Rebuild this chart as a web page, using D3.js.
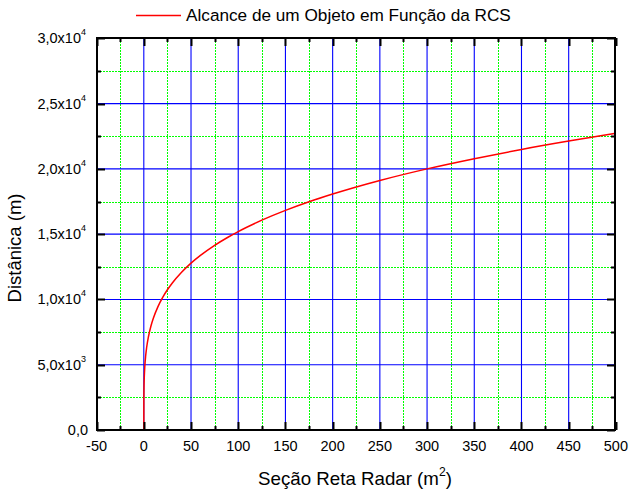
<!DOCTYPE html>
<html><head><meta charset="utf-8">
<script src="https://cdn.jsdelivr.net/npm/d3@7"></script>
<style>body{margin:0;background:#fff}svg{display:block}text{font-family:Arial,"Liberation Sans",sans-serif;fill:#000}</style>
</head><body>
<svg id="c" width="629" height="491"></svg>
<script>
const rcs = [0, 0.05, 0.2, 0.5, 1, 2, 3, 5, 7.5, 10, 15, 20, 25, 30, 40, 50, 60, 75, 90, 100, 125, 150, 175, 200, 250, 300, 350, 400, 450, 500];
const distance = [0, 2270, 3210, 4040, 4800, 5710, 6320, 7180, 7950, 8540, 9450, 10160, 10740, 11240, 12080, 12780, 13370, 14140, 14800, 15200, 16070, 16820, 17480, 18070, 19110, 20000, 20780, 21490, 22130, 22720];
const xTicks = [-50, 0, 50, 100, 150, 200, 250, 300, 350, 400, 450, 500];
const xMinor = [-25, 25, 75, 125, 175, 225, 275, 325, 375, 425, 475];
const yTicks = [0, 5000, 10000, 15000, 20000, 25000, 30000];
const yTickMant = ["0,0", "5,0x10", "1,0x10", "1,5x10", "2,0x10", "2,5x10", "3,0x10"];
const yTickExp = ["", "3", "4", "4", "4", "4", "4"];
const yMinor = [2500, 7500, 12500, 17500, 22500, 27500];
const seriesName = "Alcance de um Objeto em Função da RCS";
const xTitle = "Seção Reta Radar (m";
const yTitle = "Distânica (m)";

const L = 96.6, R = 615.9, T = 38.3, B = 430;
const x = d3.scaleLinear().domain([-50, 500]).range([L, R]);
const y = d3.scaleLinear().domain([0, 30000]).range([B, T]);
const px = v => Math.round(v) + 0.5;
const FL = 97, FR = 615, FT = 38, FB = 430;
const svg = d3.select("#c");

// fit a text element's font size so its rendered width equals target
function fitWidth(sel, target, base) {
  const w = sel.node().getBBox().width;
  const fs = base * target / w;
  sel.style("font-size", fs + "px");
  return fs;
}

// minor grid (dotted green)
const g = svg.append("g");
g.selectAll("line.vm").data(xMinor).join("line").attr("class", "vm")
  .attr("x1", d => px(x(d))).attr("x2", d => px(x(d))).attr("y1", FT).attr("y2", FB)
  .attr("stroke", "#00ff00").attr("stroke-width", 1).attr("stroke-dasharray", "2,1");
g.selectAll("line.hm").data(yMinor).join("line").attr("class", "hm")
  .attr("y1", d => px(y(d))).attr("y2", d => px(y(d))).attr("x1", FL).attr("x2", FR)
  .attr("stroke", "#00ff00").attr("stroke-width", 1).attr("stroke-dasharray", "2,1");
// major grid (solid blue)
g.selectAll("line.vM").data(xTicks.filter(d => d > -50 && d < 500)).join("line").attr("class", "vM")
  .attr("x1", d => x(d)).attr("x2", d => x(d)).attr("y1", FT).attr("y2", FB)
  .attr("stroke", "#0000ff").attr("stroke-width", 1.1);
g.selectAll("line.hM").data(yTicks.filter(d => d > 0 && d < 30000)).join("line").attr("class", "hM")
  .attr("y1", d => y(d)).attr("y2", d => y(d)).attr("x1", FL).attr("x2", FR)
  .attr("stroke", "#0000ff").attr("stroke-width", 1.1);

// curve
const line = d3.line().x((d, i) => x(rcs[i])).y(d => y(d)).curve(d3.curveMonotoneX);
svg.append("path").attr("d", line(distance)).attr("fill", "none").attr("stroke", "#ff0000").attr("stroke-width", 1.5);

// frame and inward ticks
const ax = svg.append("g");
function tickX(data, len, cls) {
  ax.selectAll("line.b" + cls).data(data).join("line").attr("class", "b" + cls)
    .attr("x1", d => px(x(d))).attr("x2", d => px(x(d))).attr("y1", FB).attr("y2", FB - len)
    .attr("stroke", "#000").attr("stroke-width", 2);
  ax.selectAll("line.t" + cls).data(data).join("line").attr("class", "t" + cls)
    .attr("x1", d => px(x(d))).attr("x2", d => px(x(d))).attr("y1", FT).attr("y2", FT + len)
    .attr("stroke", "#000").attr("stroke-width", 2);
}
function tickY(data, len, cls) {
  ax.selectAll("line.l" + cls).data(data).join("line").attr("class", "l" + cls)
    .attr("y1", d => px(y(d))).attr("y2", d => px(y(d))).attr("x1", FL).attr("x2", FL + len)
    .attr("stroke", "#000").attr("stroke-width", 2);
  ax.selectAll("line.r" + cls).data(data).join("line").attr("class", "r" + cls)
    .attr("y1", d => px(y(d))).attr("y2", d => px(y(d))).attr("x1", FR).attr("x2", FR - len)
    .attr("stroke", "#000").attr("stroke-width", 2);
}
tickX(xTicks, 8, "M"); tickX(xMinor, 4, "m");
tickY(yTicks, 8, "M"); tickY(yMinor, 4, "m");
ax.append("rect").attr("x", FL).attr("y", FT).attr("width", FR - FL).attr("height", FB - FT)
  .attr("fill", "none").attr("stroke", "#000").attr("stroke-width", 2);

// tick labels
svg.selectAll("text.xl").data(xTicks).join("text").attr("class", "xl")
  .attr("x", d => x(d)).attr("y", 451).attr("text-anchor", "middle")
  .style("font-size", "14.5px").text(d => d);
const yl = svg.selectAll("text.yl").data(yTicks).join("text").attr("class", "yl")
  .attr("y", d => y(d) + 5).style("font-size", "14.5px");
yl.each(function(d, i) {
  const t = d3.select(this);
  t.append("tspan").text(yTickMant[i]);
  if (yTickExp[i]) t.append("tspan").attr("dy", -8).style("font-size", "9px").text(yTickExp[i]);
  const mw = t.select("tspan").node().getComputedTextLength();
  t.attr("x", (yTickExp[i] ? 81 : 88) - mw);
});

// x title: spans ~258..452
const xt = svg.append("text").attr("x", 355).attr("y", 485).attr("text-anchor", "middle").style("font-size", "18px");
xt.append("tspan").text(xTitle);
const sup = xt.append("tspan").attr("dy", -9).style("font-size", "0.65em").text("2");
xt.append("tspan").attr("dy", 9).text(")");
fitWidth(xt, 194, 18);

// y title: spans ~193..302
const yt = svg.append("text").attr("transform", "translate(21,248) rotate(-90)").attr("text-anchor", "middle")
  .style("font-size", "17.5px").text(yTitle);
fitWidth(yt, 109, 17.5);

// legend
svg.append("line").attr("x1", 136).attr("x2", 181).attr("y1", 15.5).attr("y2", 15.5).attr("stroke", "#ff0000").attr("stroke-width", 1.5);
const lt = svg.append("text").attr("x", 186).attr("y", 21).style("font-size", "16px").text(seriesName);
fitWidth(lt, 325, 16);
</script>
</body></html>
